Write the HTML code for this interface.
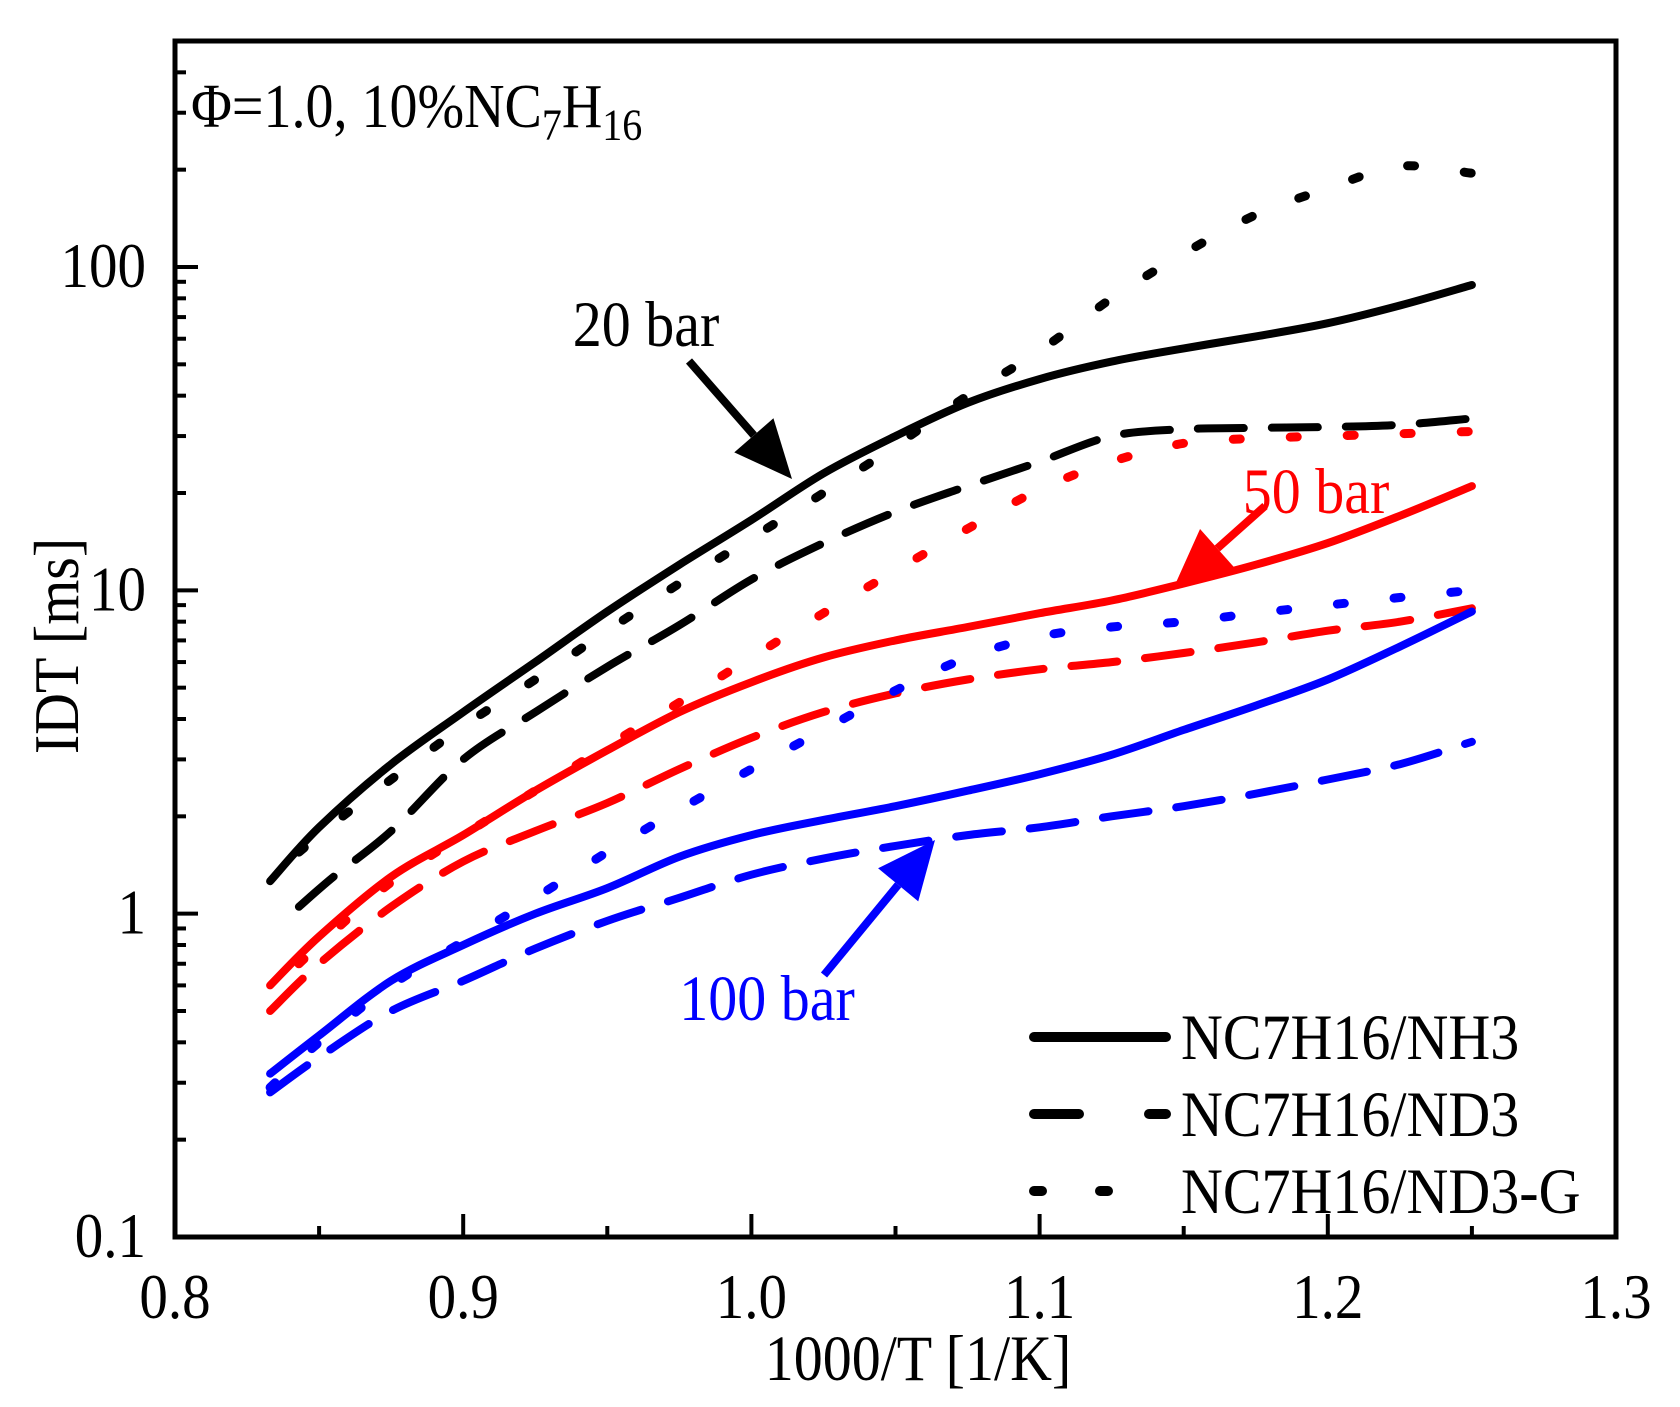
<!DOCTYPE html>
<html><head><meta charset="utf-8"><style>
html,body{margin:0;padding:0;background:#fff;}
svg{display:block;}
text{font-family:"Liberation Serif",serif;}
</style></head><body>
<svg id="chart" width="1680" height="1407" viewBox="0 0 1680 1407" xmlns="http://www.w3.org/2000/svg">
<g id="plot"></g>
<g id="axes"></g>
<text transform="translate(191,127) scale(1,1.12)" font-size="56">Φ=1.0, 10%NC<tspan font-size="40" dy="11">7</tspan><tspan dy="-11">H</tspan><tspan font-size="40" dy="11">16</tspan></text>
<text transform="translate(78,646) rotate(-90) scale(1,1.1)" text-anchor="middle" font-size="58">IDT [ms]</text>
<text transform="translate(918,1380) scale(1,1.12)" text-anchor="middle" font-size="58">1000/T [1/K]</text>
<text transform="translate(646,346) scale(1,1.12)" text-anchor="middle" font-size="58">20 bar</text>
<text transform="translate(1316,513) scale(1,1.12)" text-anchor="middle" font-size="58" fill="#f00">50 bar</text>
<text transform="translate(767,1020) scale(1,1.12)" text-anchor="middle" font-size="58" fill="#00f">100 bar</text>
<g id="arrows"></g>
<g id="legend"></g>
</svg>
<script>
const xValues = [0.833,0.85,0.875,0.9,0.925,0.95,0.975,1.0,1.025,1.05,1.075,1.1,1.125,1.15,1.175,1.2,1.225,1.25];
const xValuesLate = [0.843,0.855,0.875,0.9,0.925,0.95,0.975,1.0,1.025,1.05,1.075,1.1,1.125,1.15,1.175,1.2,1.225,1.25];
const nh3_20 = [1.26,1.85,2.9,4.2,6.0,8.6,12,16.5,23,30,38,45,51,56,61,67,76,88];
const nd3_20 = [1.05,1.3,1.8,3.0,4.2,5.8,7.8,10.8,14,17.5,21,25,30,31.5,31.8,32,32.5,34];
const nd3g_20 = [1.55,1.9,2.6,3.8,5.3,7.5,10.5,14.5,20,28,40,55,80,110,145,175,205,195];
const nh3_50 = [0.6,0.85,1.3,1.75,2.4,3.2,4.2,5.2,6.2,7.0,7.7,8.5,9.3,10.5,12,14,17,21];
const nd3_50 = [0.5,0.7,1.05,1.45,1.8,2.2,2.8,3.5,4.2,4.8,5.3,5.7,6.0,6.4,6.9,7.5,8.0,8.8];
const nd3g_50 = [0.7,0.88,1.25,1.75,2.4,3.3,4.5,6.2,8.5,11.5,15.5,20.5,25,28.5,29.5,30,30.5,31];
const nh3_100 = [0.32,0.42,0.62,0.8,1.0,1.2,1.5,1.75,1.95,2.15,2.4,2.7,3.1,3.7,4.4,5.3,6.7,8.6];
const nd3_100 = [0.28,0.36,0.5,0.62,0.78,0.95,1.12,1.32,1.48,1.62,1.75,1.85,2.0,2.15,2.35,2.6,2.9,3.4];
const nd3g_100 = [0.29,0.4,0.6,0.82,1.12,1.55,2.1,2.8,3.7,4.9,6.2,7.2,7.7,8.0,8.5,9.0,9.5,10];
const xTicks = [0.8,0.9,1.0,1.1,1.2,1.3];
const xTickLabels = ["0.8","0.9","1.0","1.1","1.2","1.3"];
const yTicks = [0.1,1,10,100];
const yTickLabels = ["0.1","1","10","100"];

const NS="http://www.w3.org/2000/svg";
const L=175,R=1616,T=41,B=1237;
const X0=0.8,X1=1.3,Y0=0.1,Y1=500;
function sx(v){return L+(v-X0)/(X1-X0)*(R-L);}
function sy(v){return B-(Math.log10(v)-Math.log10(Y0))/(Math.log10(Y1)-Math.log10(Y0))*(B-T);}
function mk(tag,attrs,parent){const e=document.createElementNS(NS,tag);for(const k in attrs)e.setAttribute(k,attrs[k]);parent.appendChild(e);return e;}
function pathFor(xs,ys){
  const p=xs.map((x,i)=>[sx(x),sy(ys[i])]);
  let d="M"+p[0][0].toFixed(1)+","+p[0][1].toFixed(1);
  for(let i=0;i<p.length-1;i++){
    const p0=p[Math.max(0,i-1)],p1=p[i],p2=p[i+1],p3=p[Math.min(p.length-1,i+2)];
    const c1=[p1[0]+(p2[0]-p0[0])/6,p1[1]+(p2[1]-p0[1])/6];
    const c2=[p2[0]-(p3[0]-p1[0])/6,p2[1]-(p3[1]-p1[1])/6];
    d+=" C"+c1[0].toFixed(1)+","+c1[1].toFixed(1)+" "+c2[0].toFixed(1)+","+c2[1].toFixed(1)+" "+p2[0].toFixed(1)+","+p2[1].toFixed(1);
  }
  return d;
}
const plot=document.getElementById('plot');
const styles={solid:{da:"none"},dash:{da:"46 28"},dot:{da:"7 50"}};
const seriesList=[
  ["series-nh3-20bar",xValues,nh3_20,"#000","solid"],["series-nd3-20bar",xValuesLate,nd3_20,"#000","dash"],["series-nd3g-20bar",xValuesLate,nd3g_20,"#000","dot"],
  ["series-nh3-50bar",xValues,nh3_50,"#f00","solid"],["series-nd3-50bar",xValues,nd3_50,"#f00","dash"],["series-nd3g-50bar",xValuesLate,nd3g_50,"#f00","dot"],
  ["series-nh3-100bar",xValues,nh3_100,"#00f","solid"],["series-nd3-100bar",xValues,nd3_100,"#00f","dash"],["series-nd3g-100bar",xValues,nd3g_100,"#00f","dot"]];
seriesList.forEach(s=>{
  const st=styles[s[4]];
  const e=mk('path',{d:pathFor(s[1],s[2]),fill:"none",stroke:s[3],"stroke-width":s[4]==="dot"?9:8,"stroke-dasharray":st.da,"stroke-linecap":"round","stroke-linejoin":"round"},plot);
  
  
});
const axes=document.getElementById('axes');
const frame=mk('rect',{x:L,y:T,width:R-L,height:B-T,fill:"none",stroke:"#000","stroke-width":5},axes);


for(let v=0.8;v<=1.3001;v+=0.05){
  const major=Math.abs(Math.round(v*10)-v*10)<1e-6;
  const t=mk('line',{x1:sx(v),x2:sx(v),y1:B,y2:B-(major?23:11),stroke:"#000","stroke-width":4},axes);
  
  
}
xTicks.forEach((v,i)=>{
  const t=mk('text',{transform:`translate(${sx(v)},1318) scale(1,1.12)`,"text-anchor":"middle","font-size":57},axes);
  t.textContent=xTickLabels[i];
  
  
});
for(let d=0.1;d<=100;d*=10){
  for(let m=1;m<=9;m++){
    const v=d*m; if(v>Y1)break;
    const t=mk('line',{x1:L,x2:L+(m===1?23:11),y1:sy(v),y2:sy(v),stroke:"#000","stroke-width":4},axes);
    
    
  }
}
yTicks.forEach((v,i)=>{
  const t=mk('text',{transform:`translate(146,${sy(v)+20}) scale(1,1.12)`,"text-anchor":"end","font-size":57},axes);
  t.textContent=yTickLabels[i];
  
  
});
const arrows=document.getElementById('arrows');
function arrow(name,x1,y1,x2,y2,col){
  const g=mk('g',{},arrows);
  
  
  const dx=x2-x1,dy=y2-y1,len=Math.hypot(dx,dy),ux=dx/len,uy=dy/len,hl=58,hw=26;
  const bx=x2-ux*hl,by=y2-uy*hl;
  mk('line',{x1:x1,y1:y1,x2:bx,y2:by,stroke:col,"stroke-width":8},g);
  mk('polygon',{points:`${x2},${y2} ${bx-uy*hw},${by+ux*hw} ${bx+uy*hw},${by-ux*hw}`,fill:col},g);
}
arrow('arrow-20-bar',689,361,792,479,"#000");
arrow('arrow-50-bar',1265,506,1174,587,"#f00");
arrow('arrow-100-bar',824,975,935,840,"#00f");
const leg=document.getElementById('legend');
[["legend-nh3","NC7H16/NH3","solid",1028,1166,"none"],["legend-nd3","NC7H16/ND3","dash",1105,1166,"45 70"],["legend-nd3g","NC7H16/ND3-G","dot",1182,1110,"8 58"]].forEach(e=>{
  const g=mk('g',{},leg);
  
  
  mk('line',{x1:1034,x2:e[4],y1:e[3]+9,y2:e[3]+9,stroke:"#000","stroke-width":10,"stroke-linecap":"round","stroke-dasharray":e[5]},g);
  const t=mk('text',{transform:`translate(1181,${e[3]+31}) scale(1,1.12)`,"font-size":58},g);
  t.textContent=e[1];
});
</script>
</body></html>
